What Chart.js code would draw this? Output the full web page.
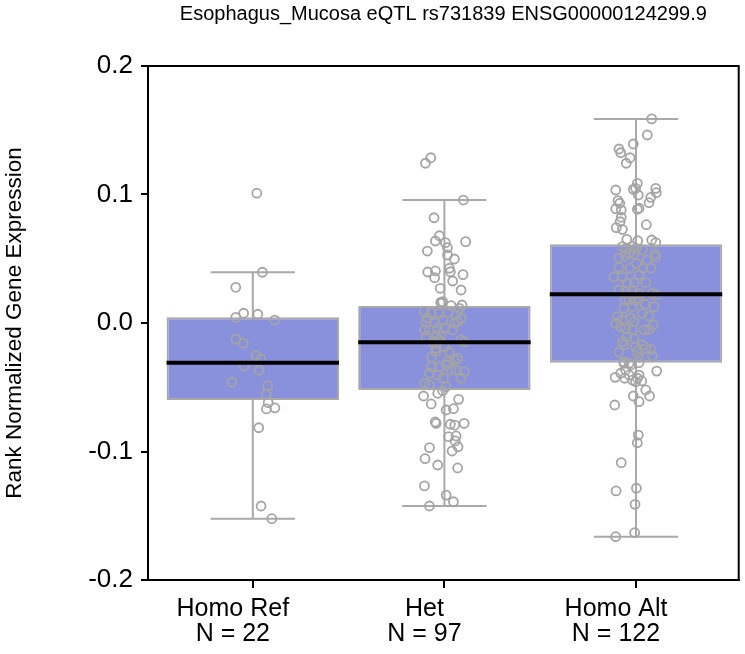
<!DOCTYPE html>
<html>
<head>
<meta charset="utf-8">
<script src="https://cdn.jsdelivr.net/npm/chart.js@4.4.1/dist/chart.umd.min.js"></script>
<style>
  body { margin: 0; background: #fff; }
</style>
</head>
<body>
<canvas id="eqtlChart" width="745" height="654"></canvas>
<script>
// === Données ===
const chartTitle = "Esophagus_Mucosa eQTL rs731839 ENSG00000124299.9";
const categories = ["Homo Ref", "Het", "Homo Alt"];
const sampleCounts = [22, 97, 122];
const yTicks = [-0.2, -0.1, 0.0, 0.1, 0.2];

// boîtes à moustaches
const whiskerLow = [-0.1523, -0.1424, -0.1663];
const quartile1 = [-0.0599, -0.0521, -0.0309];
const medians = [-0.0309, -0.0150, 0.0223];
const quartile3 = [0.0044, 0.0132, 0.0612];
const whiskerHigh = [0.0395, 0.0957, 0.1588];

// points individuels : valeur + décalage horizontal (jitter)
const homoRefValues = [0.1010, 0.0395, 0.0278, 0.0044, 0.0076, 0.0068, 0.0023, -0.0125, -0.0158, -0.0254, -0.0280,
  -0.0335, -0.0368, -0.0461, -0.0488, -0.0555, -0.0620, -0.0669, -0.0661, -0.0815, -0.1424, -0.1523];
const homoRefJitter = [0.021, 0.050, -0.089, -0.089, -0.048, 0.026, 0.115, -0.089, -0.050, 0.016, 0.042,
  -0.045, 0.033, -0.109, 0.077, 0.071, 0.080, 0.071, 0.115, 0.031, 0.043, 0.099];

const hetValues = [
  0.1243, 0.1286, 0.0957, 0.0819, 0.0679, 0.0638, 0.0625, 0.0633, 0.0586, 0.0560, 0.0529, 0.0498, 0.0426, 0.0399,
  0.0397, 0.0405, 0.0353, 0.0376, 0.0327, 0.0270, 0.0257, 0.0161,
  0.0153, 0.0166, 0.0135, 0.0140, 0.0114, 0.0088, 0.0080, 0.0075, 0.0080, 0.0062, 0.0037, 0.0010, 0.0002, 0.0023,
  -0.0002, 0.0010, -0.0054, -0.0054, -0.0041, -0.0041, -0.0054, -0.0107, -0.0107, -0.0093, -0.0146, -0.0132, -0.0132,
  -0.0146, -0.0197, -0.0184, -0.0223, -0.0301, -0.0288, -0.0275, -0.0340, -0.0340, -0.0327, -0.0366, -0.0366, -0.0379,
  -0.0391, -0.0405, -0.0430, -0.0469, -0.0482, -0.0496, 0.0039, -0.0226, -0.0428, -0.0265,
  -0.0568, -0.0630, -0.0547, -0.0527, -0.0594, -0.0677, -0.0667, -0.0770, -0.0781, -0.0788, -0.0794, -0.0781, -0.0885,
  -0.0879, -0.0918, -0.0963, -0.0996, -0.0970, -0.1056, -0.1105, -0.1128, -0.1268, -0.1339, -0.1391, -0.1424];
const hetJitter = [
  -0.099, -0.071, 0.099, -0.054, -0.026, -0.047, 0.005, 0.111, 0.016, -0.089, 0.016, 0.052, 0.026, 0.031,
  -0.087, -0.047, -0.051, 0.097, 0.043, -0.022, 0.087, -0.019,
  -0.017, -0.009, 0.035, 0.092, 0.078, -0.104, -0.069, -0.026, 0.017, 0.061, 0.087, -0.095, -0.052, -0.009,
  0.052, 0.069, -0.104, -0.078, -0.035, 0.000, 0.043, -0.095, -0.043, -0.017, -0.061, -0.026, 0.087,
  0.104, -0.043, 0.000, -0.043, 0.017, 0.052, 0.069, -0.069, -0.026, 0.009, 0.035, 0.061, 0.104,
  -0.078, -0.035, 0.087, -0.104, -0.078, 0.009, -0.089, 0.026, -0.005, -0.068,
  -0.109, -0.069, -0.035, -0.009, 0.074, 0.009, 0.047, -0.048, -0.043, 0.031, 0.054, 0.103, 0.022,
  0.061, 0.056, 0.071, 0.040, -0.078, -0.101, -0.035, 0.069, -0.104, 0.009, 0.047, -0.078];

const homoAltValues = [
  0.1588, 0.1463, 0.1393, 0.1354, 0.1325, 0.1286, 0.1243, 0.1087, 0.1035, 0.1040, 0.1048, 0.1048, 0.0996, 0.1014,
  0.0978, 0.0952, 0.0932, 0.0936, 0.0889, 0.0879, 0.0885, 0.0893, 0.0823, 0.0788, 0.0742, 0.0729, 0.0765, 0.0651,
  0.0640, 0.0646, 0.0625,
  0.0594, 0.0581, 0.0594, 0.0581, 0.0568, 0.0542, 0.0537, 0.0521, 0.0537, 0.0516, 0.0433, 0.0426, 0.0465, 0.0426,
  0.0426, 0.0360, 0.0360, 0.0309, 0.0314, 0.0314, 0.0257, 0.0244, 0.0251, 0.0231, 0.0231, 0.0218, 0.0179, 0.0179,
  0.0192, 0.0114, 0.0127, 0.0075, 0.0127, 0.0049, 0.0023, 0.0037, 0.0010, -0.0002, -0.0029, -0.0041, -0.0054,
  -0.0054, -0.0049, -0.0016, -0.0146, -0.0171, -0.0119, -0.0184, -0.0171, -0.0197, -0.0205, -0.0257, -0.0223,
  -0.0301, -0.0314, 0.0506, 0.0490, 0.0374, 0.0179, 0.0148, -0.0109, -0.0265, -0.0226, 0.0054,
  -0.0314, -0.0327, -0.0309, -0.0423, -0.0391, -0.0366, -0.0405, -0.0430, -0.0444, -0.0457, -0.0405, -0.0451,
  -0.0430, -0.0374, -0.0521, -0.0568, -0.0568, -0.0612, -0.0638, -0.0872, -0.0932, -0.1087, -0.1307, -0.1286,
  -0.1411, -0.1632, -0.1663];
const homoAltJitter = [
  0.082, 0.059, -0.014, -0.089, -0.080, -0.031, -0.051, 0.007, -0.106, -0.014, -0.002, 0.103, 0.012, 0.106,
  0.077, -0.094, -0.085, 0.068, -0.106, -0.077, 0.007, 0.016, -0.077, -0.083, -0.103, -0.071, 0.054, -0.048,
  0.009, 0.082, 0.103,
  -0.071, -0.051, -0.019, 0.002, 0.033, -0.036, -0.010, -0.057, 0.099, 0.103, -0.089, -0.033, 0.002, 0.036,
  0.077, -0.115, -0.071, -0.045, -0.010, 0.051, -0.089, -0.054, -0.019, 0.016, 0.085, 0.103, -0.036, -0.002,
  0.016, -0.063, -0.019, 0.033, 0.094, -0.097, -0.071, -0.028, -0.010, -0.106, -0.080, -0.054, -0.019,
  0.042, 0.068, 0.089, -0.071, -0.063, -0.010, -0.002, 0.033, 0.051, 0.077, 0.085, 0.007,
  -0.063, -0.036, -0.089, 0.057, 0.016, -0.057, 0.047, -0.047, 0.016, -0.089, 0.068,
  -0.063, -0.028, 0.016, -0.109, -0.080, -0.054, -0.036, -0.059, -0.019, -0.002, 0.016, 0.030,
  0.007, 0.108, 0.051, 0.071, -0.014, 0.016, -0.111, 0.012, 0.007, -0.077, -0.104, 0.002,
  -0.005, -0.007, -0.106];

const groupValues = [homoRefValues, hetValues, homoAltValues];
const groupJitter = [homoRefJitter, hetJitter, homoAltJitter];

// === Style ===
const boxColor = "#8a91dc";
const greyLine = "#a9a9a9";
const pointGrey = "#a4a4a4";
const fontName = "'Liberation Sans', Arial, sans-serif";
const boxHalf = 0.45;
const capHalf = 0.22;

// segments (moustaches, caps, médianes) en datasets "line"
function segment(x1, y1, x2, y2, color, width, order) {
  return {
    type: "line",
    data: [{ x: x1, y: y1 }, { x: x2, y: y2 }],
    borderColor: color,
    borderWidth: width,
    pointRadius: 0,
    fill: false,
    order: order
  };
}

const datasets = [];

categories.forEach((cat, i) => {
  const cx = i + 1;
  datasets.push(segment(cx, whiskerLow[i], cx, whiskerHigh[i], greyLine, 2, 4));
  datasets.push(segment(cx - capHalf, whiskerLow[i], cx + capHalf, whiskerLow[i], greyLine, 2, 4));
  datasets.push(segment(cx - capHalf, whiskerHigh[i], cx + capHalf, whiskerHigh[i], greyLine, 2, 4));
  datasets.push(segment(cx - boxHalf, medians[i], cx + boxHalf, medians[i], "#000000", 4, 0));
});

datasets.push({
  type: "bar",
  data: categories.map((c, i) => ({ x: i + 1, y: [quartile1[i], quartile3[i]] })),
  backgroundColor: boxColor,
  borderColor: greyLine,
  borderWidth: 2,
  borderSkipped: false,
  categoryPercentage: 0.9,
  barPercentage: 1.0,
  grouped: false,
  order: 3
});

datasets.push({
  type: "scatter",
  data: groupValues.flatMap((vals, i) => vals.map((v, k) => ({ x: i + 1 + groupJitter[i][k], y: v }))),
  pointRadius: 4.5,
  pointBorderWidth: 1.8,
  borderColor: pointGrey,
  backgroundColor: "rgba(0,0,0,0)",
  order: 1
});

// titre centré sur la zone du graphique + cadre noir
const framePlugin = {
  id: "frame",
  afterDraw(chart) {
    const { ctx, chartArea } = chart;
    ctx.save();
    ctx.strokeStyle = "#000";
    ctx.lineWidth = 2;
    ctx.strokeRect(chartArea.left, chartArea.top, chartArea.right - chartArea.left, chartArea.bottom - chartArea.top);
    ctx.fillStyle = "#000";
    ctx.font = "20px " + fontName;
    ctx.textAlign = "center";
    ctx.textBaseline = "middle";
    ctx.fillText(chartTitle, (chartArea.left + chartArea.right) / 2, 14);
    ctx.restore();
  }
};

new Chart(document.getElementById("eqtlChart"), {
  type: "scatter",
  data: { datasets: datasets },
  plugins: [framePlugin],
  options: {
    responsive: false,
    animation: false,
    layout: { padding: { top: 66, right: 5, left: 0, bottom: 0 } },
    plugins: {
      legend: { display: false },
      tooltip: { enabled: false },
      title: { display: false }
    },
    scales: {
      x: {
        type: "linear",
        min: 0.453,
        max: 3.536,
        offset: false,
        afterBuildTicks: (scale) => {
          scale.ticks = categories.map((c, i) => ({ value: i + 1 }));
        },
        afterFit: (scale) => { scale.height = 74; },
        ticks: {
          color: "#000",
          padding: 9,
          labelOffset: -20,
          font: { family: fontName, size: 25, lineHeight: 1.0 },
          callback: (v) => {
            const i = Math.round(v) - 1;
            return [categories[i], "N = " + sampleCounts[i]];
          }
        },
        grid: { display: true, offset: false, drawOnChartArea: false, drawTicks: true, tickLength: 8, color: "#000", lineWidth: 2 },
        border: { display: true, color: "#000", width: 2 }
      },
      y: {
        min: -0.2,
        max: 0.2,
        afterBuildTicks: (scale) => {
          scale.ticks = yTicks.map(v => ({ value: v }));
        },
        afterFit: (scale) => { scale.width = 148; },
        title: {
          display: true,
          text: "Rank Normalized Gene Expression",
          color: "#000",
          font: { family: fontName, size: 22.5 },
          padding: { top: 1, bottom: 0 }
        },
        ticks: {
          color: "#000",
          padding: 8,
          font: { family: fontName, size: 26 },
          callback: (v) => (Math.abs(v) < 1e-9 ? "0.0" : v.toFixed(1))
        },
        grid: { display: true, drawOnChartArea: false, drawTicks: true, tickLength: 7, color: "#000", lineWidth: 2 },
        border: { display: true, color: "#000", width: 2 }
      }
    }
  }
});
</script>
</body>
</html>
